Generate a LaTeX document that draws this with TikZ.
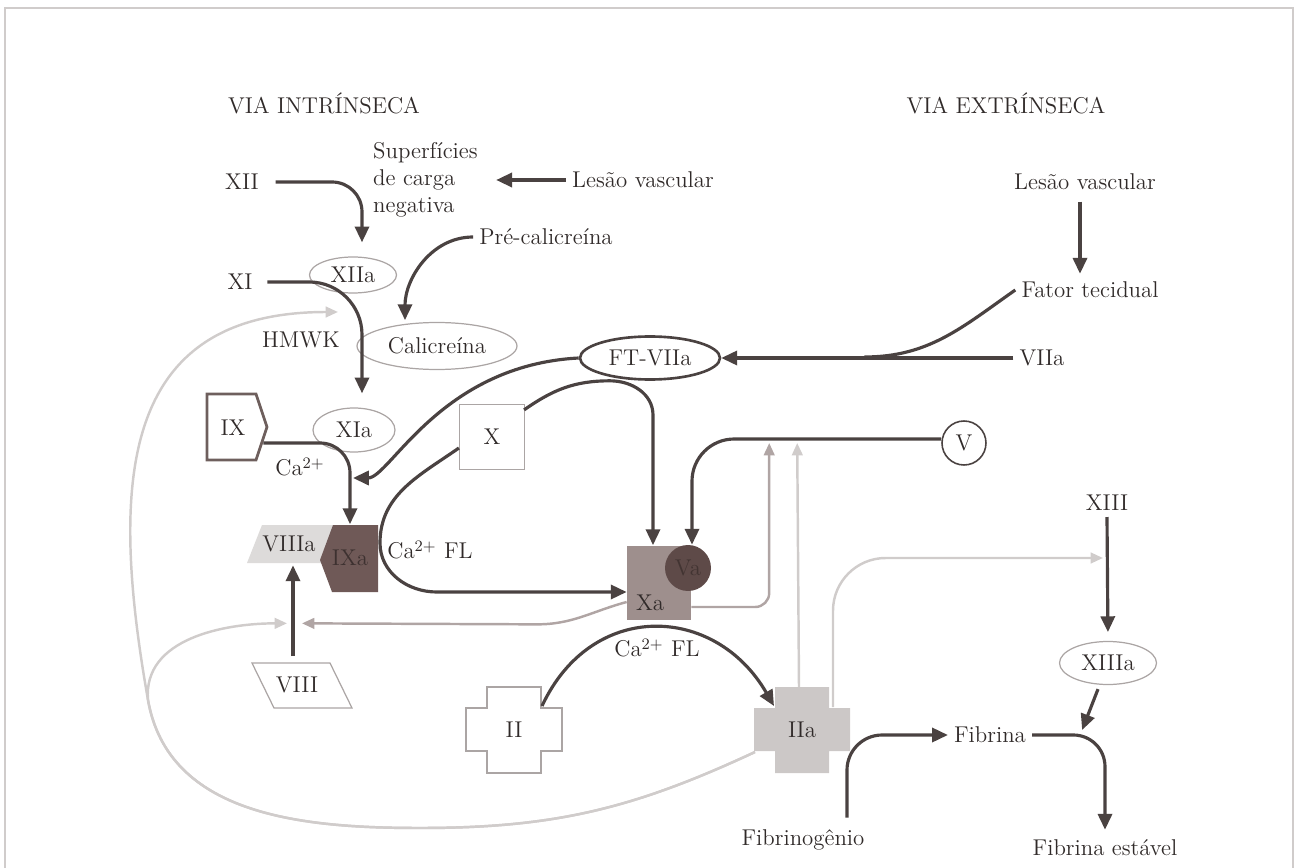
\documentclass[tikz,border=0pt]{standalone}
\usepackage{fontspec}
\usepackage{tikz}
\usetikzlibrary{calc,arrows.meta,shapes.geometric}

\definecolor{tinta}{HTML}{302A29}
\definecolor{clinha}{HTML}{4A4241}
\definecolor{borda}{HTML}{ABA5A4}
\definecolor{cinzaesc}{HTML}{B0A5A4}
\definecolor{cinzacla}{HTML}{D0CCCB}
\definecolor{corix}{HTML}{6E5F5D}
\definecolor{corixa}{HTML}{6F5957}
\definecolor{corviiia}{HTML}{DDDBDA}
\definecolor{corxa}{HTML}{9E8F8D}
\definecolor{corva}{HTML}{5E4A48}
\definecolor{coriia}{HTML}{CCC8C7}

% cruz para os fatores II e IIa
\tikzset{
  cruz/.pic={\path[pic actions] (-27,-43) -- (27,-43) -- (27,-22) -- (48,-22) -- (48,21)
    -- (27,21) -- (27,43) -- (-27,43) -- (-27,21) -- (-48,21) -- (-48,-22) -- (-27,-22) -- cycle;}
}

\begin{document}
\begin{tikzpicture}[x=0.02cm,y=-0.02cm,
    >={Triangle[length=9pt,width=8pt]},
    font=\fontsize{13}{15.3}\selectfont, text=tinta,
    seta/.style={->,draw=clinha,line width=1.8pt},
    traco/.style={draw=clinha,line width=1.8pt},
    volta/.style={->,line width=1.4pt,>={Triangle[length=7pt,width=6pt]}},
    oval/.style={ellipse,draw=borda,line width=0.7pt,inner sep=0pt}]

  \useasboundingbox (0,0) rectangle (1299,868);
  \draw[cinzacla,line width=0.6pt] (5,868) -- (5,8) -- (1293,8) -- (1293,868);

  % formas desenhadas antes dos textos
  \draw[corix,line width=1.6pt,shift={(237,427)}] (-30,-33) -- (19,-33) -- (30,0) -- (19,33) -- (-30,33) -- cycle;
  \fill[corviiia,shift={(292,544)}] (-30,-19) -- (55,-19) -- (55,19) -- (-45,19) -- cycle;
  \fill[corixa,shift={(349,558)}] (-16,-33) -- (29,-33) -- (29,34) -- (-17,34) -- (-29,2) -- cycle;
  \draw[borda,line width=0.7pt,shift={(297,685)}] (-45,-22) -- (33,-22) -- (55,23) -- (-23,23) -- cycle;
  \pic[draw=borda,fill=white,line width=0.8pt] at (514,730) {cruz};
  \pic[fill=coriia] at (802,730) {cruz};

  % titulos
  \node (intr) at (324,103) {VIA INTRÍNSECA};
  \node (extr) at (1006,103) {VIA EXTRÍNSECA};

  % via intrinseca
  \node (xii) at (242,182) {XII};
  \node[align=left,anchor=west] (sup) at (367,180) {Superfícies\\de carga\\negativa};
  \node (lesaoi) at (643,180) {Lesão vascular};
  \node[oval,minimum width=1.74cm,minimum height=0.72cm] (xiia) at (353,275) {XIIa};
  \node (precal) at (546,237) {Pré-calicreína};
  \node (xi) at (240,282) {XI};
  \node (hmwk) at (301,340) {HMWK};
  \node[oval,minimum width=3.2cm,minimum height=0.94cm] (cal) at (437,346) {Calicreína};
  \node[minimum width=1.2cm,minimum height=1.34cm] (ix) at (233,428) {IX};
  \node[oval,minimum width=1.64cm,minimum height=0.88cm] (xia) at (354,430) {XIa};
  \node[draw=borda,line width=0.7pt,minimum size=1.3cm] (x) at (492,437) {X};
  \node[minimum height=0.76cm] (viiia) at (289,544) {VIIIa};
  \node[minimum width=1.16cm,minimum height=1.34cm,text=corixa!55!black] (ixa) at (350,558) {IXa};
  \node[minimum height=0.9cm] (viii) at (297,685) {VIII};
  \node (ca1) at (300,467) {Ca\textsuperscript{2+}};
  \node (ca2) at (430,550) {Ca\textsuperscript{2+} FL};

  % complexo protrombinase
  \node[fill=corxa,minimum width=1.28cm,minimum height=1.5cm] (xa) at (659,583) {};
  \node (xatxt) at (650,603) {Xa};
  \node[circle,fill=corva,minimum size=0.92cm,inner sep=0pt,text=corva!70!black] (va) at (688,568) {Va};
  \node (ii) at (514,730) {II};
  \node (iia) at (802,730) {IIa};
  \node (ca3) at (657,648) {Ca\textsuperscript{2+} FL};

  % via extrinseca
  \node[ellipse,draw=clinha,line width=1.5pt,minimum width=2.8cm,minimum height=0.86cm,inner sep=0pt] (ftvii) at (650,358) {FT-VIIa};
  \node[circle,draw=clinha,line width=0.9pt,minimum size=0.88cm,inner sep=0pt] (v) at (964,443) {V};
  \node (lesaoe) at (1085,182) {Lesão vascular};
  \node (fator) at (1090,290) {Fator tecidual};
  \node (viia) at (1042,358) {VIIa};

  % fibrina
  \node (xiii) at (1107,503) {XIII};
  \node[oval,minimum width=1.94cm,minimum height=0.86cm] (xiiia) at (1108,663) {XIIIa};
  \node (fibrina) at (990,735) {Fibrina};
  \node (fibrinog) at (803,840) {Fibrinogênio};
  \node (fibest) at (1105,848) {Fibrina estável};

  % pontos soltos
  \coordinate (ca) at ($(ixa)+(3,-80)$);
  \coordinate (juncao) at ($(ftvii.east)+(143,-1)$);
  \coordinate (c8d) at ($(viiia.south)+(13,60)$);
  \coordinate (c8e) at ($(viiia.south)+(-2,60)$);
  \coordinate (v1) at ($(v.west)+(-172,0)$);
  \coordinate (v2) at ($(v.west)+(-144,0)$);
  \coordinate (c13) at ($(xiii)+(-4,55)$);
  \coordinate (c11) at ($(xia)+(-16,-118)$);
  \coordinate (c13a) at ($(fibrina.east)+(50,-5)$);
  \coordinate (fundo) at (420,828);
  \coordinate (canto) at (148,700);
  \coordinate (virada) at (380,543);

  % retroalimentacao (cinza)
  \draw[volta,cinzaesc] ($(xa.west)+(0,19)$) to[out=195,in=0] ($(c8d)+(235,1)$) -- (c8d);
  \draw[volta,cinzaesc,rounded corners=8pt] ($(xa.east)+(0,24)$) -| (v1);
  \draw[volta,cinzacla] ($(iia)+(-3,-43)$) -- (v2);
  \draw[volta,cinzacla,rounded corners=30pt] ($(iia)+(31,-23)$) |- (c13);
  \draw[volta,cinzacla] ($(iia)+(-47,22)$) to[out=205,in=0] (fundo) to[out=180,in=280] (canto)
    to[out=100,in=180,looseness=1.3] (c11);
  \draw[volta,cinzacla] ($(iia)+(-47,22)$) to[out=205,in=0] (fundo) to[out=180,in=280] (canto)
    to[out=95,in=180] (c8e);

  % setas principais
  \draw[seta,rounded corners=17pt,shorten <=6pt,shorten >=8pt] (xii.east) -| ($(xiia.north)+(9,0)$);
  \draw[seta,shorten >=7pt] (lesaoi.west) -- (sup.east);
  \draw[seta,shorten >=1pt] (precal.west) to[out=180,in=90] ($(cal.north)+(-32,0)$);
  \draw[seta,rounded corners=30pt,shorten <=5pt,shorten >=8pt] (xi.east) -| ($(xia.north)+(8,0)$);
  \draw[seta,rounded corners=17pt] ($(ix.east)+(0,15)$) -| (ixa.north);
  \draw[seta] (ftvii.west) .. controls +(183:79pt) and +(0:21pt) .. (ca);
  \draw[seta] ($(x.north east)+(-1,6)$) to[out=35,in=180] ($(ftvii.south)+(-40,0)$)
    to[out=0,in=90] ($(xa.north)+(-6,-130)$) -- ($(xa.north)+(-6,0)$);
  \draw[seta,rounded corners=24pt] ($(v.west)+(0,-4)$) -| ($(va.north)+(4,0)$);
  \draw[seta] ($(x.west)+(0,11)$) to[out=215,in=90] (virada) to[out=270,in=180]
    ($(xa.west)+(-190,9)$) -- ($(xa.west)+(0,9)$);
  \draw[seta] ($(viii.north)+(-4,-6)$) -- ($(viiia.south)+(4,2)$);
  \draw[seta] ($(ii)+(28,-24)$) to[out=65,in=120,looseness=1.3] ($(iia)+(-28,-24)$);
  \draw[seta,shorten <=3pt] ($(lesaoe.south)+(-5,0)$) -- ($(fator.north)+(-10,-2)$);
  \draw[traco] (fator.west) to[out=215,in=0] (juncao);
  \draw[seta] (viia.west) -- (ftvii.east);
  \draw[seta,shorten >=5pt] (xiii.south) -- (xiiia.north);
  \draw[seta] ($(xiiia.south)+(-10,4)$) -- (c13a);
  \draw[seta,rounded corners=20pt] ($(fibrinog.north)+(44,-6)$) |- (fibrina.west);
  \draw[seta,rounded corners=18pt] (fibrina.east) -| ($(fibest.north)+(0,-4)$);
\end{tikzpicture}
\end{document}
